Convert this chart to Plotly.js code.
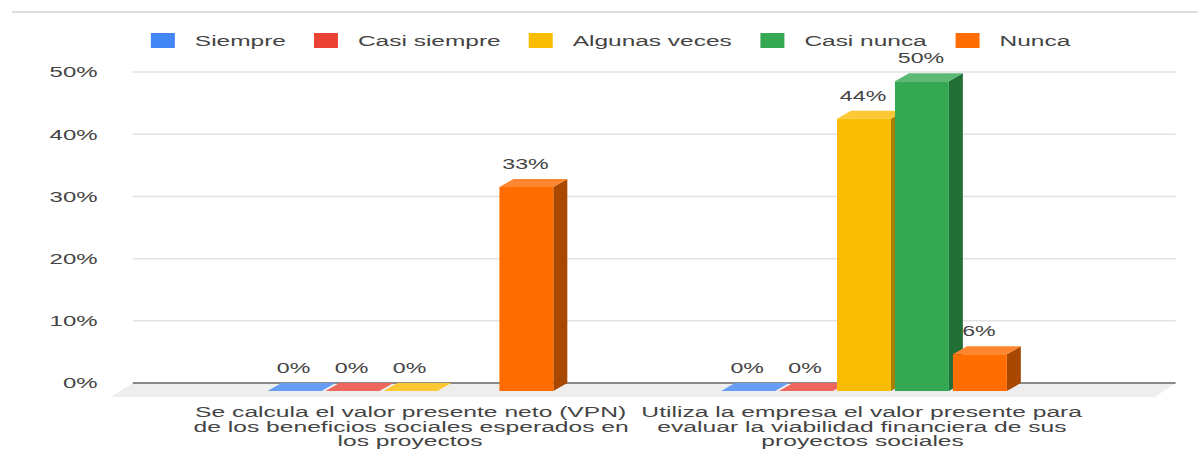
<!DOCTYPE html>
<html>
<head>
<meta charset="utf-8">
<script src="https://cdn.plot.ly/plotly-3.0.1.min.js"></script>
<style>
  html, body { margin: 0; padding: 0; background: #fff; overflow: hidden; }
  /* the source picture is stretched sideways, so the whole chart is too */
  #chart { width: 749px; height: 462px; transform: scaleX(1.5995); transform-origin: 0 0; }
</style>
</head>
<body>
<div id="chart"></div>
<script>
const seriesNames = ['Siempre', 'Casi siempre', 'Algunas veces', 'Casi nunca', 'Nunca'];
const categoryLines = [
    ['Se calcula el valor presente neto (VPN)', 'de los beneficios sociales esperados en', 'los proyectos'],
    ['Utiliza la empresa el valor presente para', 'evaluar la viabilidad financiera de sus', 'proyectos sociales']
];
const siempre = [0, 0];
const casiSiempre = [0, 0];
const algunasVeces = [0, 43.8];
const casiNunca = [null, 49.8];
const nunca = [32.8, 5.9];
const yTicks = [0, 10, 20, 30, 40, 50];

const allSeries = [siempre, casiSiempre, algunasVeces, casiNunca, nunca];
const groups = [0, 1];

const frontColors = ['#4285f4', '#ea4335', '#fbbc04', '#34a853', '#ff6d01'];
const topColors = ['#669df6', '#ee675c', '#fcc934', '#5bb974', '#ff8630'];
const sideColors = ['#2b5aa8', '#a32e25', '#a87e03', '#236f38', '#a84801'];

const textColor = '#444';
const fontFamily = '"Liberation Sans", Arial, sans-serif';

// 3D look: front faces sit a bit lower and to the left of the back wall
const bargap = 0.361;
const bargroupgap = 0.07;
const depthX = 14 / 454;
const depthY = 1.29;
const yBottom = -2.25;
const yTop = 55;
const plotHeight = 356.1;
const floorTop = 14 / plotHeight;
const pitch = (1 - bargap) / seriesNames.length;
const barWidth = pitch * (1 - bargroupgap);

function barCenter(group, i) {
    return group + (i - (seriesNames.length - 1) / 2) * pitch;
}

const traces = seriesNames.map((name, i) => ({
    type: 'bar',
    name: name,
    x: groups,
    y: allSeries[i],
    base: -depthY,
    marker: { color: frontColors[i], line: { width: 0 } },
    showlegend: false,
    hoverinfo: 'skip'
}));

// value labels above each bar
const labelX = [];
const labelY = [];
const labelText = [];
allSeries.forEach((values, i) => {
    values.forEach((v, g) => {
        if (v === null) return;
        labelX.push(barCenter(groups[g], i) - 0.002);
        labelY.push(v + 1.0);
        labelText.push(Math.round(v) + '%');
    });
});
traces.push({
    type: 'scatter',
    mode: 'text',
    x: labelX,
    y: labelY,
    text: labelText,
    textposition: 'top center',
    textfont: { family: fontFamily, size: 14.5, color: textColor },
    cliponaxis: false,
    showlegend: false,
    hoverinfo: 'skip'
});

// legend entries only, the bar swatch is too small
seriesNames.forEach((name, i) => {
    traces.push({
        type: 'scatter',
        mode: 'markers',
        name: name,
        x: [null],
        y: [null],
        marker: { symbol: 'square', size: 15, color: frontColors[i] },
        hoverinfo: 'skip'
    });
});

// floor of the 3D chart, gridlines, then the top and side of every bar
const shapes = [{
    type: 'path',
    xref: 'paper',
    yref: 'paper',
    layer: 'below',
    path: `M-0.021,0 L0,${floorTop} L1,${floorTop} L0.98,0 Z`,
    fillcolor: '#eeeeee',
    line: { width: 0 }
}, {
    // thin rule above the chart
    type: 'line',
    xref: 'paper',
    yref: 'paper',
    x0: -0.1159,
    x1: 1.0211,
    y0: 385 / plotHeight,
    y1: 385 / plotHeight,
    line: { color: '#bdbdbd', width: 1 }
}];

yTicks.forEach(t => {
    shapes.push({
        type: 'line',
        xref: 'paper',
        yref: 'y',
        layer: 'below',
        x0: 0,
        x1: 1,
        y0: t,
        y1: t,
        line: { color: t === 0 ? '#666666' : '#e2e2e2', width: 1.5 }
    });
});

allSeries.forEach((values, i) => {
    values.forEach((v, g) => {
        if (v === null) return;
        const x0 = barCenter(groups[g], i) - barWidth / 2;
        const x1 = x0 + barWidth;
        const front = v - depthY;
        if (v > 0) {
            shapes.push({
                type: 'path',
                layer: 'below',
                path: `M${x1},${-depthY} L${x1 + depthX},0 L${x1 + depthX},${v} L${x1},${front} Z`,
                fillcolor: sideColors[i],
                line: { width: 0 }
            });
        }
        shapes.push({
            type: 'path',
            layer: 'below',
            path: `M${x0},${front} L${x1},${front} L${x1 + depthX},${v} L${x0 + depthX},${v} Z`,
            fillcolor: topColors[i],
            line: { width: 0 }
        });
    });
});

// category labels, one annotation per line because the lines are set very tight
const annotations = [];
categoryLines.forEach((lines, g) => {
    lines.forEach((line, n) => {
        annotations.push({
            xref: 'x',
            yref: 'paper',
            x: groups[g] - 0.004 * g,
            y: -(5 + n * 14.7) / plotHeight,
            yanchor: 'top',
            xanchor: 'center',
            text: line,
            showarrow: false,
            borderpad: 0,
            font: { family: fontFamily, size: 15.4, color: textColor }
        });
    });
});

const layout = {
    width: 749,
    height: 462,
    margin: { l: 82.5, r: 13.75, t: 40.9, b: 65 },
    paper_bgcolor: '#ffffff',
    plot_bgcolor: 'rgba(0,0,0,0)',
    barmode: 'group',
    bargap: bargap,
    bargroupgap: bargroupgap,
    font: { family: fontFamily, size: 15, color: textColor },
    xaxis: {
        type: 'linear',
        range: [-0.6123, 1.6872],
        showgrid: false,
        zeroline: false,
        showticklabels: false,
        ticks: ''
    },
    yaxis: {
        range: [yBottom, yTop],
        tickmode: 'array',
        tickvals: yTicks,
        ticktext: yTicks.map(t => t + '%'),
        ticklabelstandoff: 21,
        showgrid: false,
        zeroline: false,
        ticks: ''
    },
    legend: {
        orientation: 'h',
        x: -0.0018,
        xanchor: 'left',
        y: 1.0015,
        yanchor: 'middle',
        font: { family: fontFamily, size: 15.3, color: textColor },
        bgcolor: 'rgba(0,0,0,0)'
    },
    shapes: shapes,
    annotations: annotations
};

Plotly.newPlot('chart', traces, layout, { displayModeBar: false, responsive: false });
</script>
</body>
</html>
